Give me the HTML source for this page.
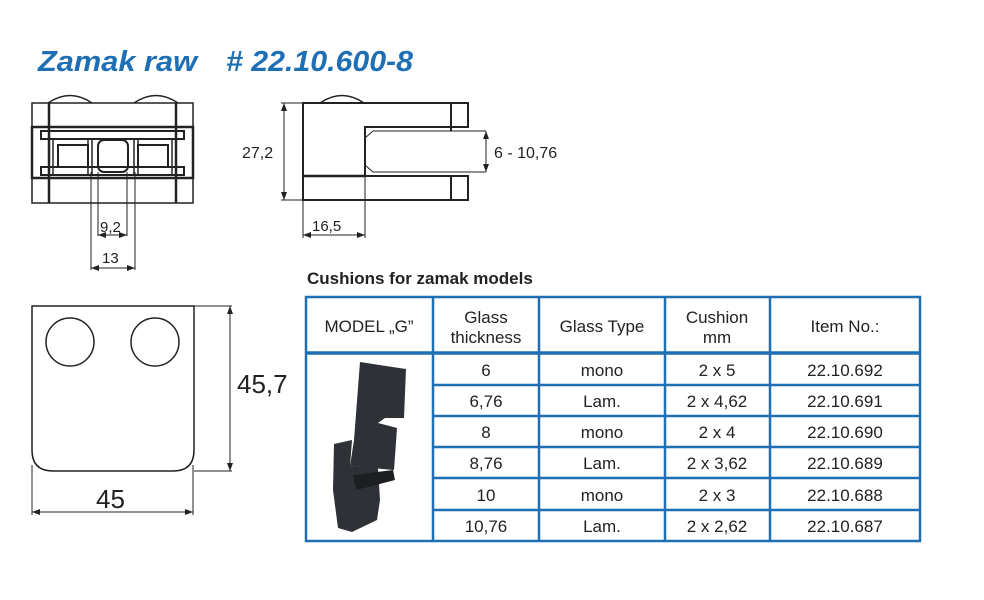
<!DOCTYPE html>
<html><head><meta charset="utf-8"><style>
body{margin:0;background:#fff;width:984px;height:600px;overflow:hidden}
svg{display:block;font-family:"Liberation Sans",Arial,sans-serif}
</style></head><body>
<svg width="984" height="600" viewBox="0 0 984 600">
<defs>
<marker id="a" markerWidth="8" markerHeight="6" refX="8" refY="3" orient="auto-start-reverse" markerUnits="userSpaceOnUse"><path d="M0,0 L8,3 L0,6z" fill="#222"/></marker>
</defs>
<text x="38" y="71" font-size="29" font-weight="bold" font-style="italic" fill="#1f6fb5" textLength="159" lengthAdjust="spacingAndGlyphs">Zamak raw</text>
<text x="226" y="71" font-size="29" font-weight="bold" font-style="italic" fill="#1f6fb5" textLength="187" lengthAdjust="spacingAndGlyphs"># 22.10.600-8</text>

<!-- front view -->
<g fill="none" stroke="#222" stroke-width="1.5">
<path d="M48,103 Q70,88 92,103 M134,103 Q156,88 178,103"/>
<rect x="32" y="103" width="161" height="100"/>
<rect x="32" y="127" width="161" height="51" stroke-width="2.5"/>
<line x1="49" y1="103" x2="49" y2="203" stroke-width="2.5"/>
<line x1="176" y1="103" x2="176" y2="203" stroke-width="2.5"/>
<rect x="41" y="131" width="143" height="8" stroke-width="2"/>
<rect x="41" y="167" width="143" height="8" stroke-width="2"/>
<rect x="98" y="140" width="30" height="32" rx="6" stroke-width="2"/>
<rect x="58" y="145" width="30" height="22" stroke-width="2"/>
<rect x="138" y="145" width="30" height="22" stroke-width="2"/>
<line x1="88" y1="140" x2="88" y2="175"/><line x1="92" y1="140" x2="92" y2="175"/>
<line x1="134" y1="140" x2="134" y2="175"/><line x1="138" y1="140" x2="138" y2="175"/>
<line x1="53" y1="140" x2="53" y2="175"/><line x1="172" y1="140" x2="172" y2="175"/>
</g>
<g stroke="#222" stroke-width="1">
<line x1="98" y1="172" x2="98" y2="236"/><line x1="127" y1="172" x2="127" y2="236"/>
<line x1="91" y1="172" x2="91" y2="270"/><line x1="135" y1="172" x2="135" y2="270"/>
<line x1="98" y1="235" x2="127" y2="235" marker-start="url(#a)" marker-end="url(#a)"/>
<line x1="91" y1="268" x2="135" y2="268" marker-start="url(#a)" marker-end="url(#a)"/>
</g>
<text x="100" y="232" font-size="15" fill="#222">9,2</text>
<text x="102" y="263" font-size="15" fill="#222">13</text>

<!-- side view -->
<g fill="none" stroke="#222" stroke-width="2">
<path d="M320,103 Q342,88 364,103" stroke-width="1.5"/>
<path d="M303,103 H468 V127 H365 V176 H468 V200 H303 Z"/>
<line x1="451" y1="103" x2="451" y2="131"/><line x1="451" y1="176" x2="451" y2="200"/>
<line x1="303" y1="176" x2="365" y2="176" stroke-width="2.5"/>
</g>
<g fill="none" stroke="#222" stroke-width="1">
<path d="M486,131 H373 L365,138 M365,165 L373,172 H486"/>
<line x1="303" y1="103" x2="281" y2="103"/><line x1="303" y1="200" x2="281" y2="200"/>
<line x1="284" y1="103" x2="284" y2="200" marker-start="url(#a)" marker-end="url(#a)"/>
<line x1="486" y1="131" x2="486" y2="172" marker-start="url(#a)" marker-end="url(#a)"/>
<line x1="303" y1="200" x2="303" y2="238"/><line x1="365" y1="176" x2="365" y2="238"/>
<line x1="303" y1="235" x2="365" y2="235" marker-start="url(#a)" marker-end="url(#a)"/>
</g>
<text x="242" y="158" font-size="16" fill="#222">27,2</text>
<text x="494" y="158" font-size="16" fill="#222">6 - 10,76</text>
<text x="312" y="231" font-size="15" fill="#222">16,5</text>

<!-- plate -->
<g fill="none" stroke="#222" stroke-width="1.5">
<path d="M32,306 H194 V450 Q194,471 173,471 H53 Q32,471 32,450 Z"/>
<circle cx="70" cy="342" r="24"/><circle cx="155" cy="342" r="24"/>
</g>
<g stroke="#222" stroke-width="1">
<line x1="194" y1="306" x2="232" y2="306"/><line x1="194" y1="471" x2="232" y2="471"/>
<line x1="230" y1="306" x2="230" y2="471" marker-start="url(#a)" marker-end="url(#a)"/>
<line x1="32" y1="465" x2="32" y2="515"/><line x1="193" y1="465" x2="193" y2="515"/>
<line x1="32" y1="512" x2="193" y2="512" marker-start="url(#a)" marker-end="url(#a)"/>
</g>
<text x="237" y="393" font-size="26" fill="#222">45,7</text>
<text x="96" y="508" font-size="26" fill="#222">45</text>

<!-- table -->
<text x="307" y="284" font-size="17" font-weight="bold" fill="#222">Cushions for zamak models</text>
<g stroke="#1f6fb5" stroke-width="2.5" fill="none">
<rect x="306" y="297" width="614" height="244"/>
<line x1="306" y1="353" x2="920" y2="353" stroke-width="3.5"/>
<line x1="433" y1="297" x2="433" y2="541"/><line x1="539" y1="297" x2="539" y2="541"/>
<line x1="665" y1="297" x2="665" y2="541"/><line x1="770" y1="297" x2="770" y2="541"/>
<line x1="433" y1="385" x2="920" y2="385"/><line x1="433" y1="416" x2="920" y2="416"/>
<line x1="433" y1="447" x2="920" y2="447"/><line x1="433" y1="478" x2="920" y2="478"/>
<line x1="433" y1="510" x2="920" y2="510"/>
</g>
<g font-size="17" fill="#222" text-anchor="middle">
<text x="369" y="332">MODEL „G”</text>
<text x="486" y="323">Glass</text><text x="486" y="343">thickness</text>
<text x="602" y="332">Glass Type</text>
<text x="717" y="323">Cushion</text><text x="717" y="343">mm</text>
<text x="845" y="332">Item No.:</text>
<text x="486" y="376">6</text><text x="602" y="376">mono</text><text x="717" y="376">2 x 5</text><text x="845" y="376">22.10.692</text>
<text x="486" y="407">6,76</text><text x="602" y="407">Lam.</text><text x="717" y="407">2 x 4,62</text><text x="845" y="407">22.10.691</text>
<text x="486" y="438">8</text><text x="602" y="438">mono</text><text x="717" y="438">2 x 4</text><text x="845" y="438">22.10.690</text>
<text x="486" y="469">8,76</text><text x="602" y="469">Lam.</text><text x="717" y="469">2 x 3,62</text><text x="845" y="469">22.10.689</text>
<text x="486" y="501">10</text><text x="602" y="501">mono</text><text x="717" y="501">2 x 3</text><text x="845" y="501">22.10.688</text>
<text x="486" y="532">10,76</text><text x="602" y="532">Lam.</text><text x="717" y="532">2 x 2,62</text><text x="845" y="532">22.10.687</text>
</g>
<!-- cushion photo -->
<g fill="#2e3135">
<path d="M360,362 L406,369 L404,418 L385,418 L378,423 L397,428 L394,470 L350,466 L354,440 Z"/>
<path d="M334,444 L352,440 L350,466 L378,468 L380,500 L377,520 L352,532 L338,528 L333,490 Z"/>
<path d="M353,475 L393,470 L395,480 L356,490 Z" fill="#1c1e21"/>
</g>
</svg>
</body></html>
